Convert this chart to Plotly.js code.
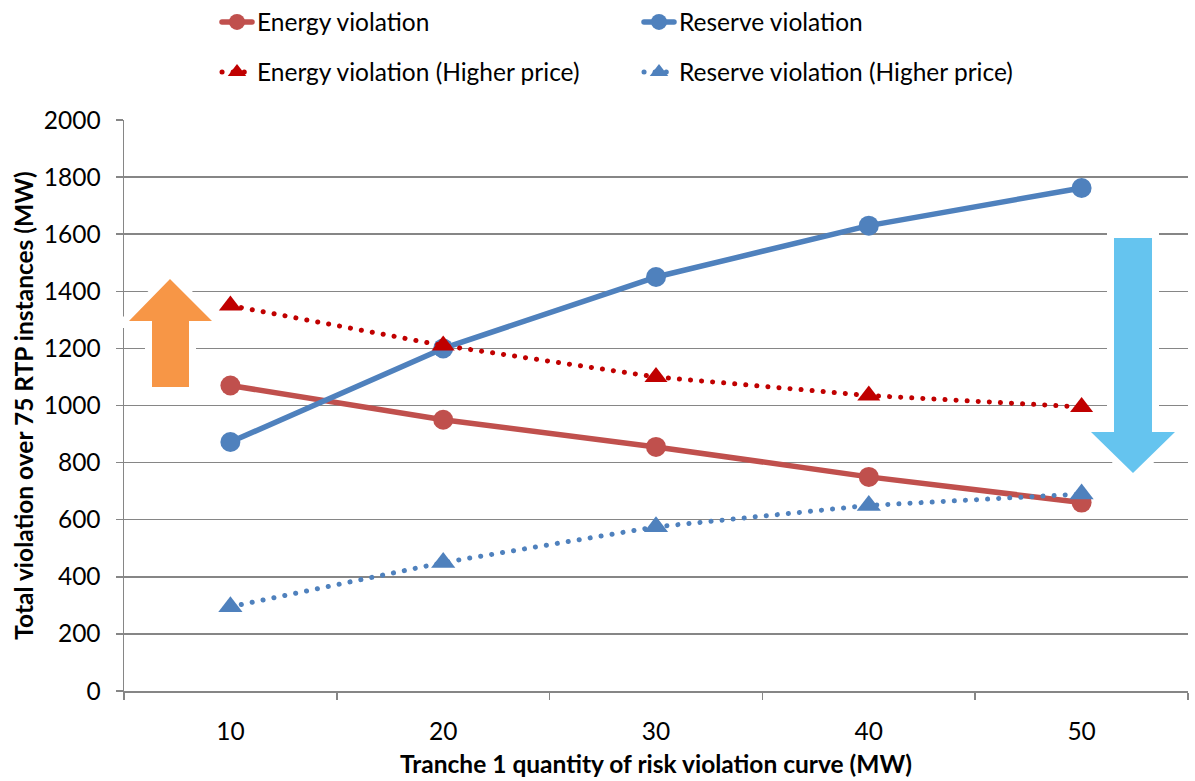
<!DOCTYPE html>
<html>
<head>
<meta charset="utf-8">
<script src="https://cdn.plot.ly/plotly-3.0.1.min.js"></script>
<style>
  html, body { margin: 0; padding: 0; background: #ffffff; }
  #chart { width: 1195px; height: 781px; }
  /* round caps turn the dotted series into round dots */
  #chart .js-line { stroke-linecap: round; stroke-linejoin: round; }
</style>
</head>
<body>
<div id="chart"></div>
<script>
// Tranche 1 quantity of the risk violation curve (MW)
const tranche = ["10", "20", "30", "40", "50"];

// Total violation over 75 RTP instances (MW)
const energyViolation = [1070, 950, 855, 750, 660];
const reserveViolation = [872, 1200, 1450, 1630, 1762];
const energyViolationHigh = [1350, 1210, 1100, 1035, 995];
const reserveViolationHigh = [295, 450, 575, 650, 690];

const FONT = "Lato, 'Noto Sans', sans-serif";
const FS = 24.5;
const DOTS = "0.1px,11px";

const traces = [
  {
    x: tranche, y: energyViolation, name: "Energy violation",
    type: "scatter", mode: "lines+markers", legend: "legend",
    line: { color: "#C0504D", width: 5.5 },
    marker: { symbol: "circle", size: 20, color: "#C0504D" }
  },
  {
    x: tranche, y: reserveViolation, name: "Reserve violation",
    type: "scatter", mode: "lines+markers", legend: "legend",
    line: { color: "#4F81BD", width: 5.5 },
    marker: { symbol: "circle", size: 20, color: "#4F81BD" }
  },
  {
    x: tranche, y: energyViolationHigh, name: "Energy violation (Higher price)",
    type: "scatter", mode: "lines+markers", legend: "legend2",
    line: { color: "#C00000", width: 5, dash: DOTS },
    marker: { symbol: "triangle-up", size: 20, color: "#C00000" }
  },
  {
    x: tranche, y: reserveViolationHigh, name: "Reserve violation (Higher price)",
    type: "scatter", mode: "lines+markers", legend: "legend2",
    line: { color: "#4F81BD", width: 5, dash: DOTS },
    marker: { symbol: "triangle-up", size: 21, color: "#4F81BD" }
  }
];

// Block arrows, outlined in pixel units of the page and mapped to paper space.
const upArrowPath = "M 129 321 L 170 279 L 212 321 L 189 321 L 189 387 L 152 387 L 152 321 Z";
const downArrowPath = "M 1114 238 L 1152 238 L 1152 432 L 1175 432 L 1133 473 L 1091 432 L 1114 432 Z";

const W = 1195, H = 781;
const L = 124, R = 7, T = 120, B = 90;
function toPaper(path) {
  return path.replace(/([ML]) (\d+(?:\.\d+)?) (\d+(?:\.\d+)?)/g, (m, c, px, py) => {
    const x = (parseFloat(px) - L) / (W - L - R);
    const y = 1 - (parseFloat(py) - T) / (H - T - B);
    return c + " " + x.toFixed(5) + " " + y.toFixed(5);
  });
}

// white halo under each arrow, then the coloured fill
const shapes = [
  { type: "path", xref: "paper", yref: "paper", path: toPaper(upArrowPath),
    fillcolor: "#ffffff", line: { color: "#ffffff", width: 14 }, layer: "above" },
  { type: "path", xref: "paper", yref: "paper", path: toPaper(upArrowPath),
    fillcolor: "#F79646", line: { width: 0 }, layer: "above" },
  { type: "path", xref: "paper", yref: "paper", path: toPaper(downArrowPath),
    fillcolor: "#ffffff", line: { color: "#ffffff", width: 14 }, layer: "above" },
  { type: "path", xref: "paper", yref: "paper", path: toPaper(downArrowPath),
    fillcolor: "#65C4EF", line: { width: 0 }, layer: "above" }
];

const legendCommon = {
  orientation: "h", xref: "container", yref: "container",
  xanchor: "left", yanchor: "middle",
  font: { family: FONT, size: FS, color: "#000000" },
  bgcolor: "rgba(0,0,0,0)", entrywidth: 377, entrywidthmode: "pixels",
  itemclick: false, itemdoubleclick: false
};

const layout = {
  width: W, height: H,
  margin: { l: L, r: R, t: T, b: B, pad: 0 },
  paper_bgcolor: "#ffffff", plot_bgcolor: "#ffffff",
  font: { family: FONT, size: FS, color: "#000000" },
  showlegend: true,
  legend: Object.assign({}, legendCommon, { x: 217 / W, y: 1 - 22 / H }),
  legend2: Object.assign({}, legendCommon, { x: 217 / W, y: 1 - 72 / H }),
  xaxis: {
    type: "category", range: [-0.5, 4.5],
    tickson: "boundaries", ticks: "outside", ticklen: 7, tickwidth: 1.5, tickcolor: "#868686",
    showline: true, linecolor: "#868686", linewidth: 1.5,
    showgrid: false, zeroline: false, ticklabelstandoff: 18,
    tickfont: { family: FONT, size: FS, color: "#000000" },
    title: { text: "Tranche 1 quantity of risk violation curve (MW)", standoff: 12,
      font: { family: FONT, size: FS, color: "#000000", weight: "bold" } }
  },
  yaxis: {
    range: [0, 2000], dtick: 200, tick0: 0,
    ticks: "outside", ticklen: 7, tickwidth: 1.5, tickcolor: "#868686",
    showline: true, linecolor: "#868686", linewidth: 1.5,
    showgrid: true, gridcolor: "#868686", gridwidth: 1.5, zeroline: false,
    ticklabelstandoff: 10,
    tickfont: { family: FONT, size: FS, color: "#000000" },
    title: { text: "Total violation over 75 RTP instances (MW)", standoff: 3,
      font: { family: FONT, size: FS, color: "#000000", weight: "bold" } }
  },
  shapes: shapes
};

Plotly.newPlot("chart", traces, layout, { displayModeBar: false, staticPlot: true });
</script>
</body>
</html>
